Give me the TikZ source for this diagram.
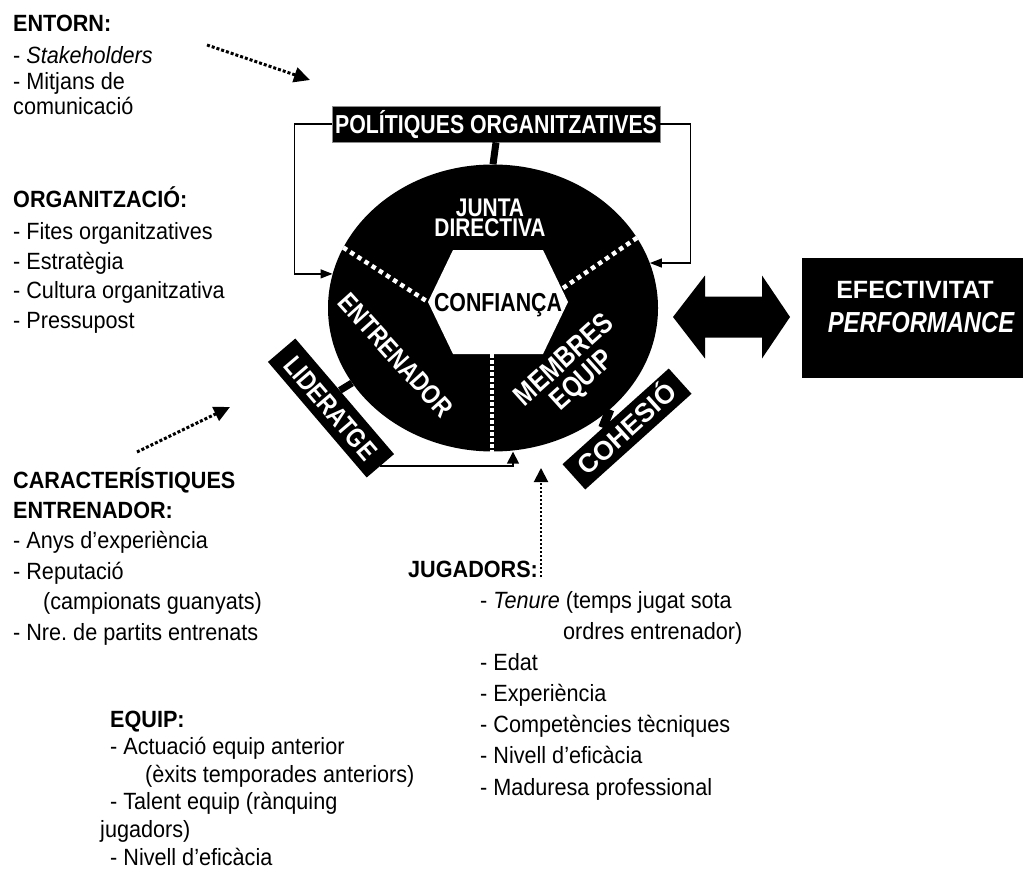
\documentclass[tikz,border=0pt]{standalone}
\usepackage{fontspec}
\setmainfont{Liberation Sans}[FakeStretch=0.92]
\newfontfamily\condsf{Liberation Sans}[FakeStretch=0.82]
\newfontfamily\plainsf{Liberation Sans}
\usetikzlibrary{shapes.geometric,arrows.meta,calc}

\tikzset{
  txt/.style={align=left, inner sep=0, anchor=base west},
  blk/.style={fill=black, text=white, inner sep=0},
  lbl/.style={text=white, inner sep=0, align=center},
  influence/.style={line width=3pt, dash pattern=on 3pt off 2pt,
    -{Triangle[length=16pt,width=15pt]}},
  feed/.style={line width=1.3pt, -{Triangle[length=12pt,width=9pt]}},
  divider/.style={white, line width=4.5pt, dash pattern=on 4.5pt off 4pt},
  stem/.style={line width=7pt}
}

\begin{document}
\begin{tikzpicture}[x=1pt,y=-1pt]
\useasboundingbox (0,0) rectangle (1024,885);

% ---- factor lists (each node sits on the baseline of its last line) ----
\node[txt, font=\fontsize{23.5}{25.5}\selectfont] (entorn) at (13,115)
  {\textbf{ENTORN:}\\[7pt]- \textit{Stakeholders}\\- Mitjans de\\comunicació};
\node[txt, font=\fontsize{23.5}{29.5}\selectfont] (organitzacio) at (13,328)
  {\textbf{ORGANITZACIÓ:}\\[3pt]- Fites organitzatives\\- Estratègia\\- Cultura organitzativa\\- Pressupost};
\node[txt, font=\fontsize{23.5}{30.4}\selectfont] (caract) at (13,640)
  {\textbf{CARACTERÍSTIQUES}\\\textbf{ENTRENADOR:}\\- Anys d’experiència\\- Reputació\\\hspace*{30pt}(campionats guanyats)\\- Nre.\ de partits entrenats};
\node[txt, font=\fontsize{23.5}{31.1}\selectfont] (jugadors) at (408,795)
  {\textbf{JUGADORS:}\\
   \hspace*{72pt}- \textit{Tenure} (temps jugat sota\\
   \hspace*{155pt}ordres entrenador)\\
   \hspace*{72pt}- Edat\\
   \hspace*{72pt}- Experiència\\
   \hspace*{72pt}- Competències tècniques\\
   \hspace*{72pt}- Nivell d’eficàcia\\
   \hspace*{72pt}- Maduresa professional};
\node[txt, font=\fontsize{23.5}{27.6}\selectfont] (equip) at (100,865)
  {\hspace*{10pt}\textbf{EQUIP:}\\
   \hspace*{10pt}- Actuació equip anterior\\
   \hspace*{45pt}(èxits temporades anteriors)\\
   \hspace*{10pt}- Talent equip (rànquing\\
   jugadors)\\
   \hspace*{10pt}- Nivell d’eficàcia};

% ---- central disc with its three sectors ----
\node[ellipse, fill=black, minimum width=330, minimum height=287, inner sep=0] (disc) at (493,308) {};
\coordinate (hexW) at (428,302);
\coordinate (hexNW) at (453,250);
\coordinate (hexNE) at (543,250);
\coordinate (hexE) at (568,302);
\coordinate (hexSE) at (543,354);
\coordinate (hexSW) at (453,354);
\coordinate (hexS) at (492,354);
\fill[white] (hexW) -- (hexNW) -- (hexNE) -- (hexE) -- (hexSE) -- (hexSW) -- cycle;
\draw[divider] (disc.158) -- (hexW);
\draw[divider] (disc.26) -- ($(hexNE)!0.75!(hexE)$);
\draw[divider, line width=3.5pt, dash pattern=on 3.5pt off 2.5pt] (hexS) -- (hexS |- disc.south);

\node[inner sep=0, text height=18.6pt, text depth=0pt, font=\condsf\bfseries\fontsize{26}{26}\selectfont] (confianca) at (498,302) {CONFIANÇA};
\node[lbl, font=\condsf\bfseries\fontsize{25.5}{20.5}\selectfont] (junta) at (490,218) {JUNTA\\DIRECTIVA};
\node[lbl, rotate=-48, text height=19.4pt, text depth=0pt, font=\condsf\bfseries\fontsize{27}{27}\selectfont] (entrenador) at (396,355) {ENTRENADOR};
\node[lbl, rotate=42, font=\condsf\bfseries\fontsize{29}{27}\selectfont] (membres) at (574,371) {MEMBRES\\EQUIP};

% ---- organisational policies ----
\node[blk, draw=black!45, line width=0.8pt, minimum width=328, minimum height=36, text height=18.6pt, text depth=0pt,
      font=\condsf\bfseries\fontsize{26}{26}\selectfont] (pol) at (496,124) {POLÍTIQUES ORGANITZATIVES};
\draw[stem] (pol.south) -- (disc.north);
\draw[feed] (pol.west) -- ++(-37,0) |- (disc.168);
\draw[feed] (pol.east) -- ++(30,0) |- (disc.16);

% ---- leadership and cohesion ----
\node[blk, rotate=-49.5, minimum width=152, minimum height=36, text height=19.4pt, text depth=0pt,
      font=\condsf\bfseries\fontsize{27}{27}\selectfont] (lid) at (331,408) {LIDERATGE};
\draw[line width=7pt] ($(lid.north west)!0.45!(lid.north east)$) -- (disc.208);
\draw[line width=1.6pt, -{Triangle[length=12pt,width=12pt]}] (lid.east) -| ([xshift=20pt]disc.south);

\node[blk, rotate=42, minimum width=143, minimum height=34, text height=19pt, text depth=0pt,
      font=\plainsf\bfseries\fontsize{26.5}{26.5}\selectfont] (coh) at (627,429) {COHESIÓ};
\draw[line width=9pt] ($(coh.north west)!0.38!(coh.north east)$) -- (disc.-41);

% ---- effectiveness ----
\node[fill=black, minimum width=221, minimum height=120, inner sep=0] (efec) at (912.5,318) {};
\node[anchor=base, text=white, inner sep=0, font=\plainsf\bfseries\fontsize{25}{25}\selectfont] (efecA) at (915,298) {EFECTIVITAT};
\node[anchor=base, text=white, inner sep=0, font=\condsf\bfseries\itshape\fontsize{29}{29}\selectfont] (efecB) at (921,332) {PERFORMANCE};
\coordinate (dl) at (673,317);
\coordinate (dr) at (790,317);
\fill (dl) -- ++(32,-41.5) -- ++(0,21) -- ++(57,0) -- ++(0,-21) -- (dr)
      -- ++(-28,41.5) -- ++(0,-21) -- ++(-57,0) -- ++(0,21) -- cycle;

% ---- outside influences ----
\coordinate (entA) at (207,45);
\coordinate (entB) at (310,80);
\draw[influence] (entA) -- (entB);
\coordinate (carA) at (137,452);
\coordinate (carB) at (230,407);
\draw[influence] (carA) -- (carB);
\coordinate (jugA) at (541,577);
\coordinate (jugB) at (541,468);
\draw[line width=2pt, dash pattern=on 2.5pt off 1.5pt, -{Triangle[length=14pt,width=14pt]}] (jugA) -- (jugB);
\end{tikzpicture}
\end{document}
